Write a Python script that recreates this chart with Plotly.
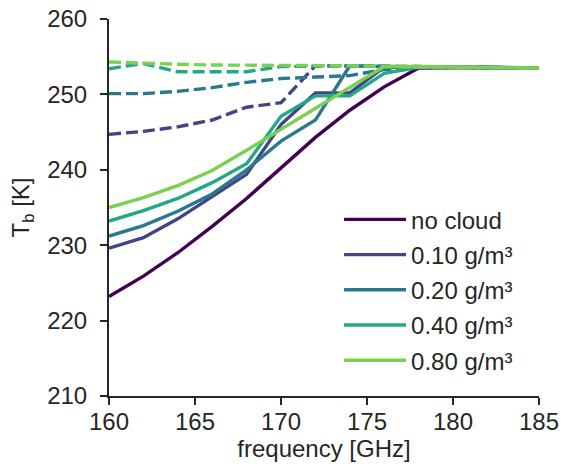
import plotly.graph_objects as go

freq = [160, 162, 164, 166, 168, 170, 172, 174, 176, 178, 180, 182, 184, 185]

labels = ["no cloud", "0.10 g/m³", "0.20 g/m³", "0.40 g/m³", "0.80 g/m³"]
colors = ["#440154", "#414487", "#2a788e", "#22a884", "#7ad151"]

tb_nocloud = [223.2, 225.9, 229.0, 232.5, 236.2, 240.2, 244.3, 247.9, 251.0, 253.5, 253.6, 253.6, 253.5, 253.5]

tb_010_solid = [229.6, 231.0, 233.5, 236.4, 239.4, 246.0, 250.2, 250.2, 253.6, 253.6, 253.6, 253.6, 253.5, 253.5]
tb_020_solid = [231.2, 232.6, 234.5, 236.8, 240.0, 243.8, 246.6, 253.8, 253.7, 253.6, 253.6, 253.6, 253.5, 253.5]
tb_040_solid = [233.2, 234.6, 236.2, 238.3, 240.8, 247.1, 249.8, 249.8, 252.8, 253.6, 253.6, 253.6, 253.5, 253.5]
tb_080_solid = [235.0, 236.3, 237.9, 239.9, 242.6, 245.4, 248.1, 250.9, 253.7, 253.7, 253.6, 253.6, 253.5, 253.5]

tb_010_dash = [244.7, 245.1, 245.7, 246.6, 248.3, 248.9, 253.8, 253.8, 253.7, 253.7, 253.6, 253.6, 253.5, 253.5]
tb_020_dash = [250.1, 250.1, 250.4, 250.9, 251.6, 252.1, 252.3, 252.5, 253.3, 253.6, 253.6, 253.6, 253.5, 253.5]
tb_040_dash = [253.4, 254.1, 253.0, 253.0, 253.0, 253.7, 253.8, 253.8, 253.7, 253.6, 253.6, 253.6, 253.5, 253.5]
tb_080_dash = [254.3, 254.1, 254.0, 253.9, 253.9, 253.9, 253.9, 253.8, 253.7, 253.6, 253.6, 253.6, 253.5, 253.5]

x_ticks = [160, 165, 170, 175, 180, 185]
y_ticks = [210, 220, 230, 240, 250, 260]

solid = [tb_010_solid, tb_020_solid, tb_040_solid, tb_080_solid]
dashed = [tb_010_dash, tb_020_dash, tb_040_dash, tb_080_dash]

FONT = "Liberation Sans, Arial, sans-serif"
TXT = "#262626"
LW = 3.4

fig = go.Figure()
fig.add_trace(go.Scatter(x=freq, y=tb_nocloud, mode="lines", name=labels[0],
                         legendgroup="g0",
                         line=dict(color=colors[0], width=LW)))
for i in range(4):
    fig.add_trace(go.Scatter(x=freq, y=solid[i], mode="lines", name=labels[i + 1],
                             legendgroup=f"g{i+1}",
                             line=dict(color=colors[i + 1], width=LW)))
    fig.add_trace(go.Scatter(x=freq, y=dashed[i], mode="lines", showlegend=False,
                             legendgroup=f"g{i+1}",
                             line=dict(color=colors[i + 1], width=LW, dash="12px,5px")))

axis_common = dict(
    showgrid=False, zeroline=False, showline=True, linecolor=TXT, linewidth=2,
    ticks="outside", ticklen=7, tickwidth=1.5, tickcolor=TXT,
    tickfont=dict(family=FONT, size=24, color=TXT),
    title_font=dict(family=FONT, size=24, color=TXT),
    automargin=False, ticklabeloverflow="allow",
)

fig.update_xaxes(range=[160, 185], tickvals=x_ticks, title_text="frequency [GHz]",
                 ticklabelstandoff=-4, title_standoff=6, **axis_common)
fig.update_yaxes(range=[210, 260], tickvals=y_ticks, title_text="T<sub>b</sub> [K]",
                 ticklabelstandoff=8, title_standoff=11, **axis_common)

fig.update_layout(
    width=561, height=470,
    margin=dict(l=109, r=22, t=18.5, b=74),
    plot_bgcolor="white", paper_bgcolor="white",
    font=dict(family=FONT, color=TXT),
    legend=dict(x=0.535, y=0.527, xanchor="left", yanchor="top",
                font=dict(family=FONT, size=24, color=TXT),
                bgcolor="rgba(0,0,0,0)", tracegroupgap=1, itemwidth=62),
)

fig.write_html("out.html",
               config={"displayModeBar": False},
               post_script="document.body.style.margin='0';document.body.style.overflow='hidden';")
